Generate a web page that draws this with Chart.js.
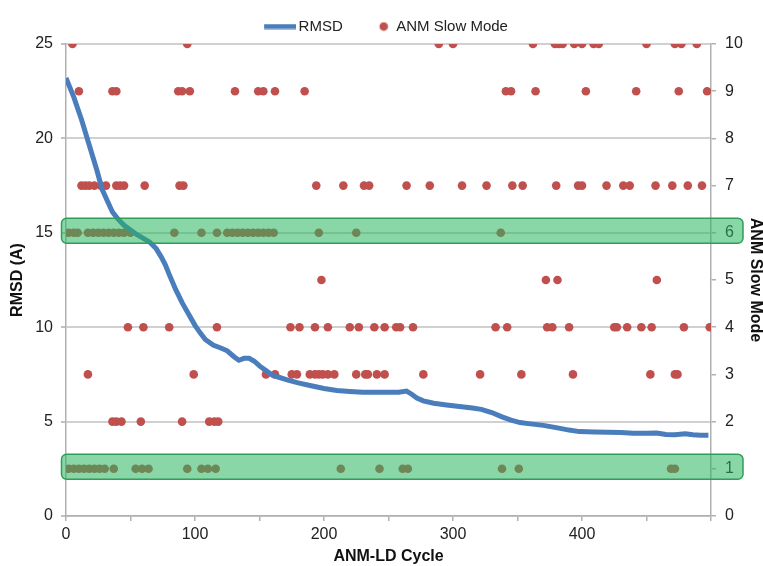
<!DOCTYPE html>
<html>
<head>
<meta charset="utf-8">
<title>RMSD and ANM slow mode</title>
<script src="https://cdn.jsdelivr.net/npm/chart.js@4.4.1/dist/chart.umd.min.js"></script>
<style>
  body { margin: 0; background: #fff; }
  canvas { display: block; }
</style>
</head>
<body>
<canvas id="rmsdChart" width="763" height="566"></canvas>
<script>
// RMSD along the ANM-LD run (cycle, value)
const rmsdCycles = [0, 3, 6, 9, 12, 16, 20, 24, 28, 32, 36, 40, 45, 50, 55, 60, 65, 70, 74, 77,
    80, 85, 90, 95, 100, 104, 108, 114, 120, 125, 130, 134, 138, 142, 146, 150, 155, 160, 165, 172,
    180, 190, 200, 210, 220, 230, 240, 250, 258, 264, 268, 272, 277, 285, 295, 305, 315, 322, 330, 338,
    345, 352, 360, 370, 380, 390, 398, 410, 420, 430, 440, 450, 458, 465, 472, 480, 486, 492, 498];
const rmsdValues = [23.2, 22.7, 22.2, 21.6, 21.0, 20.1, 19.2, 18.3, 17.3, 16.7, 16.1, 15.75, 15.4, 15.15, 14.9, 14.7, 14.5, 14.15, 13.7, 13.3,
    12.8, 12.0, 11.3, 10.7, 10.1, 9.7, 9.35, 9.05, 8.9, 8.75, 8.45, 8.25, 8.35, 8.35, 8.2, 7.95, 7.7, 7.45, 7.35, 7.2,
    7.05, 6.9, 6.75, 6.65, 6.6, 6.55, 6.55, 6.55, 6.55, 6.62, 6.45, 6.25, 6.1, 5.97, 5.88, 5.8, 5.72, 5.65, 5.48, 5.25,
    5.08, 4.95, 4.88, 4.8, 4.68, 4.55, 4.47, 4.45, 4.44, 4.42, 4.38, 4.38, 4.4, 4.32, 4.3, 4.36, 4.3, 4.28, 4.28];

// cycles at which each slow mode was picked
const mode10Cycles = [5, 94, 289, 300, 362, 379, 382, 385, 394, 400, 409, 413, 450, 472, 477, 489];
const mode9Cycles = [10, 36, 39, 87, 90, 96, 131, 149, 153, 162, 185, 341, 345, 364, 403, 442, 475, 497];
const mode8Cycles = [];
const mode7Cycles = [12, 15, 18, 22, 27, 31, 39, 42, 45, 61, 88, 91, 194, 215, 231, 235, 264, 282, 307, 326,
    346, 354, 380, 397, 400, 419, 432, 437, 457, 470, 482, 493];
const mode6Cycles = [2, 6, 9, 17, 21, 25, 29, 33, 37, 41, 45, 50, 84, 105, 117, 125, 129, 133, 137, 141,
    145, 149, 153, 157, 161, 196, 225, 337];
const mode5Cycles = [198, 372, 381, 458];
const mode4Cycles = [48, 60, 80, 117, 174, 181, 193, 203, 220, 227, 239, 247, 256, 259, 269, 333, 342, 373, 377, 390,
    425, 427, 435, 446, 454, 479, 499];
const mode3Cycles = [17, 99, 155, 162, 175, 179, 189, 193, 196, 199, 203, 208, 225, 232, 234, 241, 247, 277, 321, 353,
    393, 453, 472, 474];
const mode2Cycles = [36, 39, 43, 58, 90, 111, 115, 118];
const mode1Cycles = [2, 6, 10, 14, 18, 22, 26, 30, 37, 54, 59, 64, 94, 105, 110, 116, 213, 243, 261, 265,
    338, 351, 469, 472];

const modeRows = [mode1Cycles, mode2Cycles, mode3Cycles, mode4Cycles, mode5Cycles,
    mode6Cycles, mode7Cycles, mode8Cycles, mode9Cycles, mode10Cycles];
const highlightModes = [6, 1];

const xTickLabels = [0, 100, 200, 300, 400];
const rmsdTicks = [0, 5, 10, 15, 20, 25];
const modeTicks = [0, 1, 2, 3, 4, 5, 6, 7, 8, 9, 10];

const BLUE = '#4a7dbb';
const RED = '#c0504d';
const FONT = '"Liberation Sans", Arial, sans-serif';

const rmsdPoints = rmsdCycles.map((c, i) => ({ x: c, y: rmsdValues[i] }));
const modePoints = [];
modeRows.forEach((cycles, i) => {
    cycles.forEach(c => modePoints.push({ x: c, y: i + 1 }));
});

// small images for the legend markers
function legendLine() {
    const c = document.createElement('canvas');
    c.width = 46; c.height = 6;
    const g = c.getContext('2d');
    g.strokeStyle = BLUE;
    g.lineWidth = 5;
    g.beginPath();
    g.moveTo(14, 3);
    g.lineTo(46, 3);
    g.stroke();
    return c;
}

function legendDot() {
    const c = document.createElement('canvas');
    c.width = 46; c.height = 10;
    const g = c.getContext('2d');
    g.fillStyle = RED;
    g.beginPath();
    g.arc(36, 5, 4.3, 0, Math.PI * 2);
    g.fill();
    return c;
}

// translucent green boxes over the highlighted mode rows
const modeBands = {
    id: 'modeBands',
    afterDatasetsDraw(chart) {
        const ctx = chart.ctx;
        const area = chart.chartArea;
        const y1 = chart.scales.y1;
        highlightModes.forEach(m => {
            const cy = y1.getPixelForValue(m) - 2;
            const left = area.left - 4.5;
            const width = area.right + 32 - left;
            ctx.save();
            ctx.beginPath();
            ctx.roundRect(left, cy - 12.5, width, 25, 5);
            ctx.fillStyle = 'rgba(40, 180, 95, 0.55)';
            ctx.fill();
            ctx.lineWidth = 1.5;
            ctx.strokeStyle = '#2f9e5a';
            ctx.stroke();
            ctx.restore();
        });
    }
};

const ctx = document.getElementById('rmsdChart').getContext('2d');
const chart = new Chart(ctx, {
    type: 'scatter',
    data: {
        datasets: [{
            label: 'RMSD',
            data: rmsdPoints,
            showLine: true,
            borderColor: BLUE,
            backgroundColor: BLUE,
            borderWidth: 5,
            pointRadius: 0,
            tension: 0,
            yAxisID: 'y'
        }, {
            label: 'ANM Slow Mode',
            data: modePoints,
            backgroundColor: RED,
            borderWidth: 0,
            pointRadius: 4.3,
            yAxisID: 'y1'
        }]
    },
    options: {
        responsive: false,
        animation: false,
        devicePixelRatio: 1,
        layout: { padding: { top: 9, left: 0, right: 0, bottom: 0 } },
        plugins: {
            tooltip: { enabled: false },
            legend: {
                position: 'top',
                labels: {
                    usePointStyle: true,
                    pointStyleWidth: 36,
                    padding: 10,
                    color: '#222',
                    font: { family: FONT, size: 15 },
                    generateLabels(chart) {
                        const items = Chart.defaults.plugins.legend.labels.generateLabels(chart);
                        items[0].pointStyle = legendLine();
                        items[1].pointStyle = legendDot();
                        return items;
                    }
                }
            }
        },
        scales: {
            x: {
                type: 'linear',
                min: 0,
                max: 500,
                afterFit(scale) { scale.height = 50; },
                grid: { drawOnChartArea: false, tickLength: 5, tickColor: '#b0b0b0', lineWidth: 1.5 },
                border: { color: '#b0b0b0', width: 1.5 },
                ticks: {
                    stepSize: 50,
                    padding: 4,
                    maxRotation: 0,
                    autoSkip: false,
                    color: '#222',
                    font: { family: FONT, size: 16 },
                    callback: v => xTickLabels.includes(v) ? v : ''
                },
                title: {
                    display: true,
                    text: 'ANM-LD Cycle',
                    color: '#111',
                    padding: { top: 0, bottom: 0 },
                    font: { family: FONT, size: 16, weight: 'bold' }
                }
            },
            y: {
                position: 'left',
                min: 0,
                max: 25,
                afterFit(scale) { scale.width = 66; },
                grid: { color: '#d0d0d0', lineWidth: 2, tickLength: 5, tickColor: '#c0c0c0' },
                border: { color: '#b0b0b0', width: 1.5 },
                ticks: {
                    stepSize: 5,
                    padding: 8,
                    color: '#222',
                    font: { family: FONT, size: 16 },
                    callback: v => rmsdTicks.includes(v) ? v : ''
                },
                title: {
                    display: true,
                    text: 'RMSD (A)',
                    color: '#111',
                    padding: { top: 8, bottom: 0 },
                    font: { family: FONT, size: 16, weight: 'bold' }
                }
            },
            y1: {
                position: 'right',
                min: 0,
                max: 10,
                afterFit(scale) { scale.width = 52; },
                grid: { drawOnChartArea: false, tickLength: 5, tickColor: '#b0b0b0', lineWidth: 1.5 },
                border: { color: '#b0b0b0', width: 1.5 },
                ticks: {
                    stepSize: 1,
                    padding: 9,
                    color: '#222',
                    font: { family: FONT, size: 16 },
                    callback: v => modeTicks.includes(v) ? v : ''
                },
                title: {
                    display: true,
                    text: 'ANM Slow Mode',
                    color: '#111',
                    padding: { top: -2, bottom: 0 },
                    font: { family: FONT, size: 16, weight: 'bold' }
                }
            }
        }
    },
    plugins: [modeBands]
});
</script>
</body>
</html>
